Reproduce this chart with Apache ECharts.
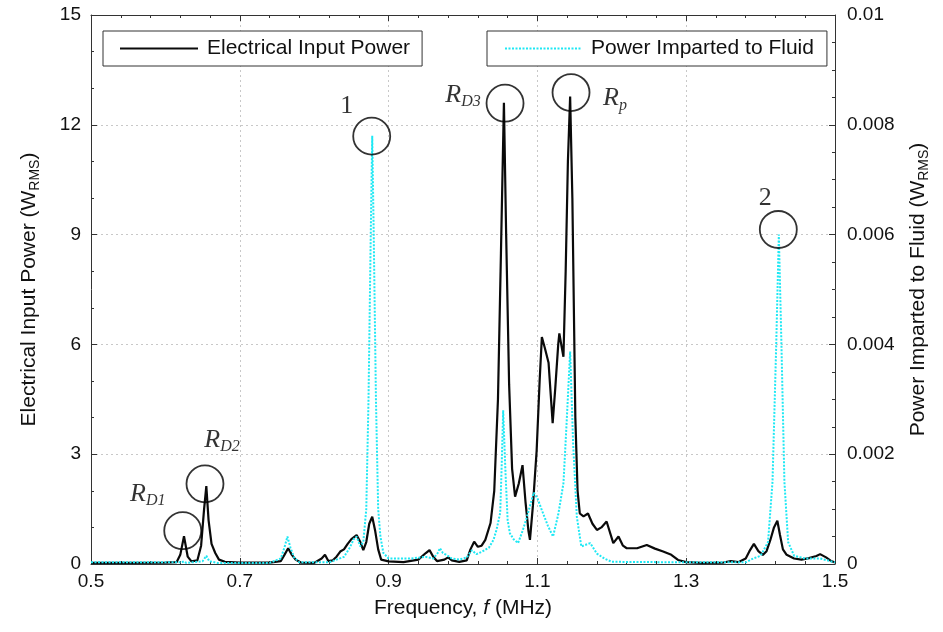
<!DOCTYPE html>
<html>
<head>
<meta charset="utf-8">
<script src="https://cdn.jsdelivr.net/npm/echarts@6/dist/echarts.min.js"></script>
<style>
html,body{margin:0;padding:0;background:#fff;}
#chart{width:943px;height:632px;}
</style>
</head>
<body>
<div id="chart"></div>
<script>
// ---- Data ----
// Electrical input power (W_RMS), left axis
const freqElec = [0.50,0.55,0.60,0.615,0.620,0.625,0.630,0.635,0.643,0.648,0.652,0.655,0.658,0.662,0.667,0.672,0.680,0.700,0.740,0.755,0.760,0.765,0.770,0.775,0.782,0.800,0.810,0.8145,0.819,0.825,0.830,0.835,0.840,0.845,0.850,0.857,0.862,0.866,0.870,0.874,0.878,0.882,0.886,0.890,0.900,0.920,0.940,0.950,0.955,0.960,0.965,0.975,0.980,0.985,0.995,1.005,1.010,1.015,1.020,1.025,1.030,1.037,1.042,1.047,1.051,1.055,1.058,1.062,1.066,1.070,1.075,1.080,1.084,1.088,1.090,1.094,1.099,1.103,1.106,1.110,1.115,1.118,1.1205,1.124,1.128,1.1295,1.132,1.135,1.138,1.141,1.144,1.147,1.151,1.154,1.157,1.162,1.168,1.174,1.180,1.186,1.193,1.202,1.209,1.215,1.220,1.234,1.247,1.258,1.269,1.280,1.289,1.300,1.320,1.350,1.360,1.370,1.380,1.385,1.391,1.397,1.403,1.408,1.413,1.418,1.4225,1.426,1.430,1.435,1.445,1.455,1.465,1.475,1.480,1.488,1.495,1.500];
const elecPower = [0.03,0.03,0.04,0.05,0.25,0.76,0.2,0.07,0.1,0.5,1.5,2.13,1.2,0.55,0.3,0.12,0.06,0.04,0.04,0.08,0.25,0.43,0.25,0.12,0.04,0.03,0.15,0.25,0.08,0.1,0.2,0.34,0.40,0.55,0.68,0.79,0.6,0.38,0.6,1.1,1.29,0.9,0.4,0.12,0.07,0.05,0.12,0.3,0.38,0.2,0.08,0.12,0.18,0.1,0.06,0.1,0.4,0.61,0.47,0.5,0.66,1.12,2.0,4.5,8.5,12.6,9.0,4.9,2.6,1.84,2.2,2.7,1.7,0.9,0.66,1.6,3.1,5.0,6.2,5.9,5.5,4.6,3.85,4.8,6.0,6.3,6.0,5.66,8.0,11.0,12.77,10.0,4.0,2.0,1.38,1.3,1.38,1.1,0.93,1.0,1.16,0.57,0.75,0.5,0.43,0.43,0.52,0.42,0.34,0.25,0.11,0.05,0.03,0.04,0.08,0.05,0.15,0.35,0.55,0.35,0.25,0.35,0.65,1.0,1.18,0.8,0.4,0.25,0.15,0.12,0.16,0.22,0.27,0.18,0.08,0.04];

// Power imparted to fluid (W_RMS), right axis
const freqFluid = [0.50,0.60,0.622,0.625,0.628,0.650,0.655,0.659,0.670,0.740,0.755,0.760,0.764,0.768,0.773,0.780,0.820,0.830,0.840,0.848,0.853,0.857,0.862,0.866,0.870,0.873,0.876,0.878,0.880,0.883,0.886,0.889,0.893,0.900,0.930,0.950,0.960,0.966,0.969,0.973,0.977,0.985,0.995,1.005,1.012,1.018,1.025,1.035,1.041,1.045,1.050,1.052,1.054,1.057,1.060,1.063,1.068,1.074,1.080,1.086,1.095,1.100,1.106,1.114,1.121,1.128,1.135,1.139,1.144,1.148,1.153,1.159,1.165,1.171,1.180,1.190,1.200,1.300,1.380,1.390,1.400,1.410,1.416,1.421,1.4245,1.428,1.432,1.437,1.445,1.460,1.480,1.500];
const fluidPower = [0.00003,0.00003,0.00003,0.00005,0.00002,0.00005,0.00015,0.00005,0.00002,0.00002,0.0001,0.0003,0.0005,0.0003,0.00012,0.00003,0.00003,0.00008,0.00013,0.0003,0.00045,0.0005,0.00032,0.0004,0.001,0.003,0.006,0.0078,0.006,0.003,0.001,0.0005,0.0002,0.0001,0.0001,0.00013,0.0001,0.0002,0.00029,0.0002,0.00017,0.0001,0.00008,0.00012,0.00025,0.00018,0.00022,0.0003,0.00044,0.00062,0.00093,0.0018,0.0028,0.0017,0.0008,0.00056,0.00045,0.00038,0.0006,0.00086,0.0013,0.0012,0.00098,0.0007,0.0005,0.0009,0.00147,0.0025,0.00387,0.0022,0.00086,0.00032,0.00035,0.00038,0.00019,0.0001,0.00004,0.00003,0.00003,0.0001,0.00015,0.0004,0.0015,0.004,0.006,0.004,0.0015,0.0004,0.00015,0.0001,0.0001,0.00003];

// Annotation circles (frequency, level on the left axis) and their labels
const annoFreq  = [0.6233, 0.6532, 0.8773, 1.0565, 1.1452, 1.4238];
const annoLevel = [0.91, 2.19, 11.69, 12.59, 12.88, 9.14];
const annoText  = ['{r|R}{s|D1}', '{r|R}{s|D2}', '{n|1}', '{r|R}{s|D3}', '{r|R}{s|p}', '{n|2}'];

// Axis ticks
const xTicks = { min: 0.5, max: 1.5, interval: 0.2 };
const yLeftTicks = { min: 0, max: 15, interval: 3 };
const yRightTicks = { min: 0, max: 0.01, interval: 0.002 };

// ---- layout (not data) ----
const labelOffsets = [[-35,-37],[17,-44],[-25,-30],[-42,-8],[44,6],[-13,-31]];

const sans = 'Liberation Sans, Arial, Helvetica, sans-serif';
const serif = 'Liberation Serif, Times New Roman, serif';
const axisColor = '#333';
const cyan = '#1ee8f4';

const elecData = freqElec.map((f, i) => [f, elecPower[i]]);
const fluidData = freqFluid.map((f, i) => [f, fluidPower[i]]);
const annoData = annoFreq.map((f, i) => ({
  value: [f, annoLevel[i]],
  label: { formatter: annoText[i], offset: labelOffsets[i] }
}));

const chart = echarts.init(document.getElementById('chart'), null, { renderer: 'canvas' });

const fmt = v => String(parseFloat(Number(v).toFixed(4)));

const legendBase = {
  orient: 'horizontal',
  itemHeight: 16,
  borderColor: '#333', borderWidth: 1,
  backgroundColor: '#fff',
  selectedMode: false,
  itemStyle: { opacity: 0 },
  textStyle: { fontFamily: sans, fontSize: 21, color: '#111', padding: [0, 0, 0, 4] }
};

const option = {
  backgroundColor: '#fff',
  animation: false,
  grid: { left: 91, right: 108, top: 15, bottom: 68, containLabel: false },
  legend: [
    Object.assign({}, legendBase, {
      data: ['Electrical Input Power'],
      left: 103, top: 31,
      itemWidth: 78,
      padding: [7, 12, 7, 16]
    }),
    Object.assign({}, legendBase, {
      data: ['Power Imparted to Fluid'],
      left: 487, top: 31,
      itemWidth: 77,
      padding: [7, 13, 7, 17]
    })
  ],
  xAxis: [
    {
      type: 'value',
      position: 'bottom',
      min: xTicks.min, max: xTicks.max, interval: xTicks.interval,
      name: 'Frequency, {i|f} (MHz)',
      nameLocation: 'middle', nameGap: 34,
      nameTextStyle: { fontFamily: sans, fontSize: 21, color: '#111',
        rich: { i: { fontFamily: sans, fontStyle: 'italic', fontSize: 21, color: '#111' } } },
      axisLine: { show: true, lineStyle: { color: axisColor, width: 1 } },
      axisTick: { show: true, inside: true, length: 6, lineStyle: { color: axisColor } },
      minorTick: { show: true, splitNumber: 5, length: 3, lineStyle: { color: axisColor } },
      axisLabel: { fontFamily: sans, fontSize: 19, color: '#111', margin: 8, formatter: v => Number(v).toFixed(1) },
      splitLine: { show: true, lineStyle: { type: [2, 3], color: '#c8c8c8', width: 1 } }
    },
    {
      type: 'value',
      position: 'top',
      min: xTicks.min, max: xTicks.max, interval: xTicks.interval,
      axisLine: { show: true, onZero: false, lineStyle: { color: axisColor, width: 1 } },
      axisTick: { show: true, inside: true, length: 6, lineStyle: { color: axisColor } },
      minorTick: { show: true, splitNumber: 5, length: 3, lineStyle: { color: axisColor } },
      axisLabel: { show: false },
      splitLine: { show: false }
    }
  ],
  yAxis: [
    {
      type: 'value',
      position: 'left',
      min: yLeftTicks.min, max: yLeftTicks.max, interval: yLeftTicks.interval,
      name: 'Electrical Input Power (W{sub|RMS})',
      nameLocation: 'middle', nameGap: 50,
      nameTextStyle: { fontFamily: sans, fontSize: 21, color: '#111', lineHeight: 24,
        rich: { sub: { fontFamily: sans, fontSize: 14, color: '#111', lineHeight: 14, padding: [12, 0, 0, 0] } } },
      axisLine: { show: true, onZero: false, lineStyle: { color: axisColor, width: 1 } },
      axisTick: { show: true, inside: true, length: 6, lineStyle: { color: axisColor } },
      minorTick: { show: true, splitNumber: 3, length: 3, lineStyle: { color: axisColor } },
      axisLabel: { fontFamily: sans, fontSize: 19, color: '#111', margin: 10 },
      splitLine: { show: true, lineStyle: { type: [2, 3], color: '#c8c8c8', width: 1 } }
    },
    {
      type: 'value',
      position: 'right',
      min: yRightTicks.min, max: yRightTicks.max, interval: yRightTicks.interval,
      name: 'Power Imparted to Fluid (W{sub|RMS})',
      nameLocation: 'middle', nameGap: 68,
      nameTextStyle: { fontFamily: sans, fontSize: 21, color: '#111', lineHeight: 24,
        rich: { sub: { fontFamily: sans, fontSize: 14, color: '#111', lineHeight: 14, padding: [12, 0, 0, 0] } } },
      axisLine: { show: true, onZero: false, lineStyle: { color: axisColor, width: 1 } },
      axisTick: { show: true, inside: true, length: 6, lineStyle: { color: axisColor } },
      minorTick: { show: true, splitNumber: 4, length: 3, lineStyle: { color: axisColor } },
      axisLabel: { fontFamily: sans, fontSize: 19, color: '#111', margin: 12, formatter: fmt },
      splitLine: { show: false }
    }
  ],
  series: [
    {
      name: 'Electrical Input Power',
      type: 'line',
      xAxisIndex: 0, yAxisIndex: 0,
      data: elecData,
      showSymbol: false, symbol: 'none',
      lineStyle: { color: '#0a0a0a', width: 2.2 },
      itemStyle: { color: '#0a0a0a' },
      z: 2
    },
    {
      name: 'Power Imparted to Fluid',
      type: 'line',
      xAxisIndex: 0, yAxisIndex: 1,
      data: fluidData,
      showSymbol: false, symbol: 'none',
      lineStyle: { color: cyan, width: 2, type: [2, 1.5] },
      itemStyle: { color: cyan },
      z: 3
    },
    {
      name: 'annotations',
      type: 'scatter',
      xAxisIndex: 0, yAxisIndex: 0,
      data: annoData,
      symbol: 'circle', symbolSize: 37,
      silent: true,
      itemStyle: { color: 'rgba(0,0,0,0)', borderColor: '#000', borderWidth: 1.8 },
      label: {
        show: true, position: 'inside',
        color: '#000',
        rich: {
          r: { fontFamily: serif, fontStyle: 'italic', fontSize: 26, color: '#000', lineHeight: 28 },
          s: { fontFamily: serif, fontStyle: 'italic', fontSize: 16, color: '#000', lineHeight: 16, padding: [14, 0, 0, 0] },
          n: { fontFamily: serif, fontSize: 26, color: '#000', lineHeight: 28 }
        }
      },
      emphasis: { disabled: true },
      z: 4
    }
  ]
};

chart.setOption(option);
</script>
</body>
</html>
